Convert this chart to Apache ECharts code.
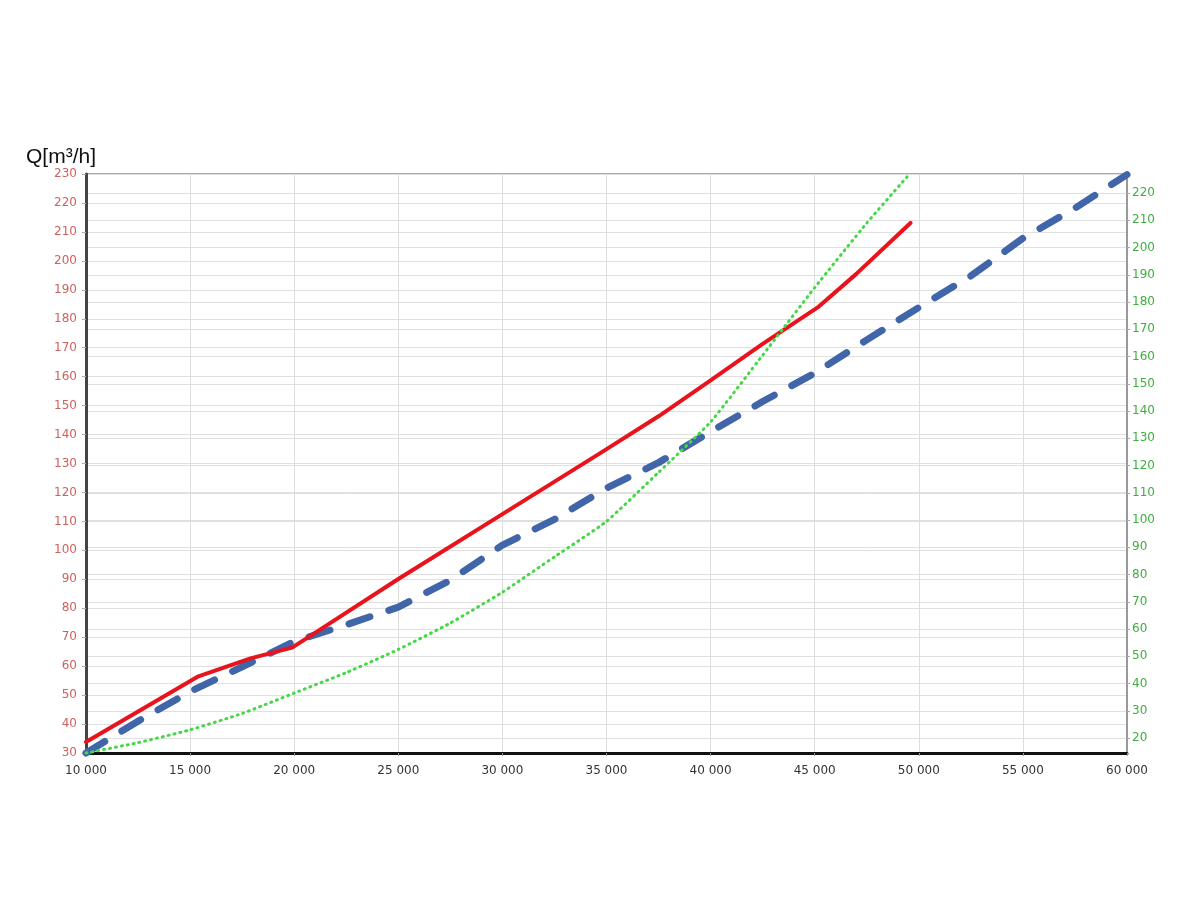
<!DOCTYPE html>
<html>
<head>
<meta charset="utf-8">
<script src="https://cdn.jsdelivr.net/npm/echarts@6/dist/echarts.min.js"></script>
<style>html,body{margin:0;padding:0;background:#fff}#c{width:1200px;height:900px}</style>
</head>
<body>
<div id="c"></div>
<script>
// Series data [x, value]
const redSeries = [[10000,33.8],[15400,56.5],[17900,62.7],[19900,66.4],[21000,71.5],[25000,90.1],[30000,112.5],[34700,133.6],[37500,146.3],[40000,158.7],[42500,171.3],[45200,184.2],[47000,195.5],[49600,213.1]];
const blueSeries = [[10000,30],[12500,41],[15000,51.2],[17500,59.8],[20000,68.5],[22500,74.3],[25000,80.4],[27500,89.7],[30000,101.8],[32500,110.7],[35000,121.5],[37500,130.3],[40000,141],[42500,151.4],[45000,161.2],[47500,172.7],[50000,183.9],[52500,194.8],[55000,207.8],[57500,218.2],[60000,229.8]];
const greenSeries = [[10000,14.5],[12500,18.3],[15000,23],[17500,29],[20000,36.5],[22500,44],[25000,52.5],[27500,62.2],[30000,73.5],[32500,86.5],[35000,99.5],[37500,117.5],[40000,136],[42500,160.5],[45000,185.3],[47500,209],[49500,226.5]];
const leftAxis = {min: 30, max: 230, interval: 10};
const rightAxis = {min: 14.5, max: 227};
const rightTicks = [20,30,40,50,60,70,80,90,100,110,120,130,140,150,160,170,180,190,200,210,220];
const xAxisRange = {min: 10000, max: 60000, interval: 5000};
const yTitle = 'Q[m³/h]';

const chart = echarts.init(document.getElementById('c'), null, {renderer: 'canvas'});
const fmt = v => String(v).replace(/\B(?=(\d{3})+(?!\d))/g, ' ');
chart.setOption({
  animation: false,
  backgroundColor: '#fff',
  textStyle: {fontFamily: 'DejaVu Sans'},
  title: {text: yTitle, left: 21, top: 142, textStyle: {fontFamily: 'Liberation Sans', fontSize: 21, fontWeight: 'normal', color: '#111'}},
  grid: {left: 86, right: 73, top: 174, bottom: 147, show: true, borderColor: '#8a8a8a', borderWidth: 1.5, containLabel: false},
  xAxis: {
    type: 'value', min: xAxisRange.min, max: xAxisRange.max, interval: xAxisRange.interval,
    axisLine: {show: true, onZero: false, lineStyle: {color: '#111', width: 3}},
    axisTick: {show: true, length: 3, lineStyle: {color: '#999'}},
    axisLabel: {formatter: fmt, color: '#333', fontSize: 12, margin: 12, fontFamily: 'DejaVu Sans'},
    splitLine: {show: true, lineStyle: {color: '#dedede', width: 1}}
  },
  yAxis: [
    {
      type: 'value', position: 'left', min: leftAxis.min, max: leftAxis.max, interval: leftAxis.interval,
      axisLine: {show: true, onZero: false, lineStyle: {color: '#444', width: 3}},
      axisTick: {show: true, length: 4, lineStyle: {color: '#aaa'}},
      axisLabel: {color: '#d06060', fontSize: 12, margin: 9, fontFamily: 'DejaVu Sans'},
      splitLine: {show: true, lineStyle: {color: '#e0e0e0', width: 1}}
    },
    {
      type: 'value', position: 'right', min: rightAxis.min, max: rightAxis.max,
      axisLine: {show: true, onZero: false, lineStyle: {color: '#999', width: 2}},
      axisTick: {show: true, length: 3, customValues: rightTicks, lineStyle: {color: '#aaa'}},
      axisLabel: {color: '#3fae3f', fontSize: 12, margin: 5, customValues: rightTicks, fontFamily: 'DejaVu Sans'},
      splitLine: {show: true, lineStyle: {color: '#e0e0e0', width: 1}}
    }
  ],
  series: [
    {type: 'line', data: blueSeries, yAxisIndex: 0, symbol: 'none', clip: false, z: 2,
     lineStyle: {color: '#4165a9', width: 7, type: [22, 20], cap: 'round', join: 'round'}},
    {type: 'line', data: redSeries, yAxisIndex: 0, symbol: 'none', clip: false, z: 3,
     lineStyle: {color: '#e8131b', width: 4, cap: 'round', join: 'round'}},
    {type: 'line', data: greenSeries, yAxisIndex: 1, symbol: 'none', clip: false, z: 4, smooth: 0.15,
     lineStyle: {color: '#44d844', width: 3, type: [1, 5], cap: 'round'}}
  ]
});
</script>
</body>
</html>
